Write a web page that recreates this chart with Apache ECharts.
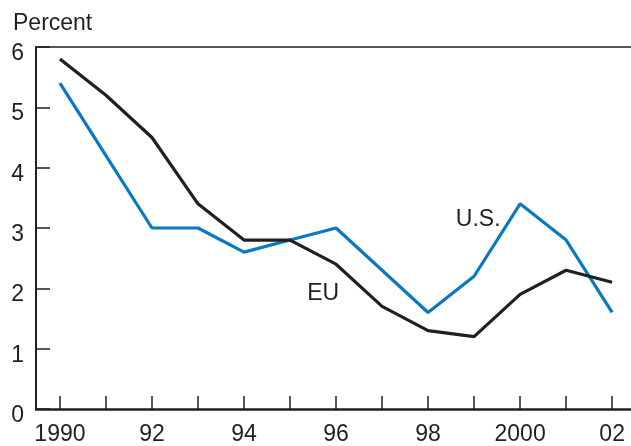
<!DOCTYPE html>
<html>
<head>
<meta charset="utf-8">
<script src="https://cdn.jsdelivr.net/npm/echarts@6/dist/echarts.min.js"></script>
<style>html,body{margin:0;padding:0;background:#fff}#c{width:631px;height:446px}</style>
</head>
<body>
<div id="c"></div>
<script>
const years = [1990,1991,1992,1993,1994,1995,1996,1997,1998,1999,2000,2001,2002];
const usValues = [5.4,4.2,3.0,3.0,2.6,2.8,3.0,2.3,1.6,2.2,3.4,2.8,1.6];
const euValues = [5.8,5.2,4.5,3.4,2.8,2.8,2.4,1.7,1.3,1.2,1.9,2.3,2.1];
const xTickValues = [1990,1991,1992,1993,1994,1995,1996,1997,1998,1999,2000,2001,2002];
const xLabelValues = [1990,1992,1994,1996,1998,2000,2002];
const xLabelText = {1990:'1990',1992:'92',1994:'94',1996:'96',1998:'98',2000:'2000',2002:'02'};
const yTickLabels = ['0','1','2','3','4','5','6'];
const seriesNames = ['U.S.','EU'];

const ink = '#231f20';
const blue = '#0a78c2';
const font = 'Liberation Sans, Arial, sans-serif';

const chart = echarts.init(document.getElementById('c'), null, {renderer:'canvas'});
chart.setOption({
  animation:false,
  backgroundColor:'#fff',
  title:{text:'Percent', left:8, top:7, textStyle:{fontFamily:font, fontSize:23, fontWeight:'normal', color:ink}},
  grid:{left:36, right:0, top:47, bottom:34},
  xAxis:[{
    type:'value', min:1989.48, max:2002.41,
    axisLine:{show:true, lineStyle:{color:ink, width:2.5}},
    splitLine:{show:false},
    axisTick:{show:true, inside:true, length:13, customValues:xTickValues, lineStyle:{color:ink, width:1.5}},
    axisLabel:{customValues:xLabelValues, formatter:v=>xLabelText[Math.round(v)]||'', margin:14,
      fontFamily:font, fontSize:23, color:ink}
  },{
    type:'value', position:'top', min:1989.48, max:2002.41,
    axisLine:{show:true, lineStyle:{color:ink, width:1.5}},
    splitLine:{show:false}, axisTick:{show:false}, axisLabel:{show:false}
  }],
  yAxis:{
    type:'value', min:0, max:6, interval:1,
    axisLine:{show:true, lineStyle:{color:ink, width:2}},
    splitLine:{show:false},
    axisTick:{show:true, inside:true, length:14, lineStyle:{color:ink, width:1.5}},
    axisLabel:{formatter:v=>yTickLabels[v], margin:12, fontFamily:font, fontSize:23, color:ink, verticalAlign:'top', padding:[-5,0,0,0]}
  },
  series:[
    {name:seriesNames[0], type:'line', data:years.map((y,i)=>[y,usValues[i]]), symbol:'none',
      lineStyle:{color:blue, width:3.2}, z:2,
      markPoint:{symbol:'circle', symbolSize:2, itemStyle:{color:'rgba(0,0,0,0)'},
        data:[{coord:[1999.09,3.14], name:seriesNames[0]}],
        label:{show:true, formatter:'{b}', fontFamily:font, fontSize:23, color:ink, position:'inside'}}},
    {name:seriesNames[1], type:'line', data:years.map((y,i)=>[y,euValues[i]]), symbol:'none',
      lineStyle:{color:ink, width:3.2}, z:3,
      markPoint:{symbol:'circle', symbolSize:2, itemStyle:{color:'rgba(0,0,0,0)'},
        data:[{coord:[1995.72,1.91], name:seriesNames[1]}],
        label:{show:true, formatter:'{b}', fontFamily:font, fontSize:23, color:ink, position:'inside'}}}
  ]
});
</script>
</body>
</html>
